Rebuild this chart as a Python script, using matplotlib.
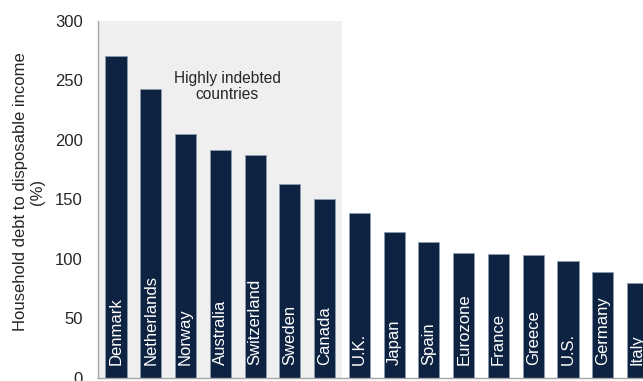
import matplotlib
matplotlib.use("Agg")
import matplotlib.pyplot as plt

plt.rcParams['font.family'] = ['Liberation Sans', 'DejaVu Sans']

countries = ["Denmark", "Netherlands", "Norway", "Australia", "Switzerland",
             "Sweden", "Canada", "U.K.", "Japan", "Spain", "Eurozone",
             "France", "Greece", "U.S.", "Germany", "Italy"]
debt_ratio = [271, 243, 205, 192, 187, 163, 150, 139, 123, 114, 105,
              104, 103, 98, 89, 80]
y_ticks = [0, 50, 100, 150, 200, 250, 300]
n_highly_indebted = 7

bar_color = "#0e2241"
text_color = "#262626"
spine_color = "#a6a6a6"

fig = plt.figure(figsize=(6.43, 3.81), dpi=100)
ax = fig.add_axes([0.1524, 0.0079, 0.866, 0.937])

x = list(range(len(countries)))
x_left, x_right = -0.52, 15.5

# shaded band behind the highly indebted group
ax.axvspan(x_left, n_highly_indebted - 0.5, color="#efefef", zorder=0, lw=0)

ax.bar(x, debt_ratio, width=0.61, color=bar_color, edgecolor="#8c9aae",
       linewidth=0.6, zorder=2)

for xi, name in zip(x, countries):
    ax.text(xi, 11, name, rotation=90, ha="center", va="bottom",
            color="white", fontsize=12, zorder=3)

ax.text(3.2, 245, "Highly indebted\ncountries", ha="center", va="center",
        fontsize=11.2, color=text_color, linespacing=1.15, zorder=3)

ax.set_xlim(x_left, x_right)
ax.set_ylim(0, 300)
ax.set_yticks(y_ticks)
ax.set_xticks([])
ax.tick_params(axis="y", length=0, pad=11, labelsize=12, labelcolor=text_color)

for side in ("top", "right"):
    ax.spines[side].set_visible(False)
for side in ("left", "bottom"):
    ax.spines[side].set_color(spine_color)
    ax.spines[side].set_linewidth(1.0)

fig.text(29 / 643, 1 - 191.5 / 381,
         "Household debt to disposable income\n(%)",
         rotation=90, ha="center", va="center", fontsize=12,
         color=text_color, linespacing=1.1)

fig.savefig("out.png", dpi=100)
